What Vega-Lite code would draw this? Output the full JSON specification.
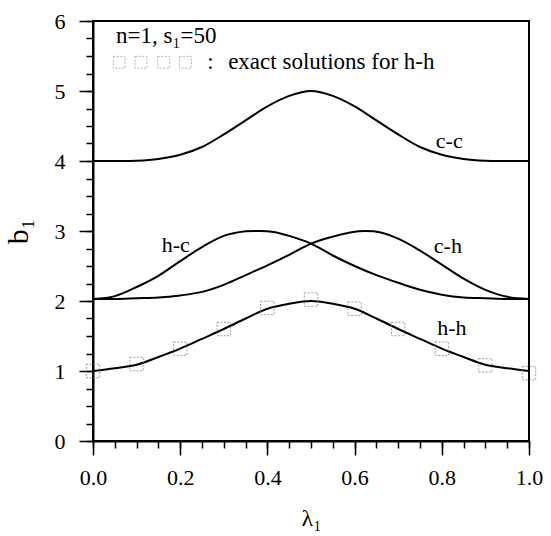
{
  "$schema": "https://vega.github.io/schema/vega-lite/v6.json",
  "width": 436,
  "height": 420,
  "autosize": {"type": "none"},
  "padding": {"left": 93, "top": 21, "right": 22, "bottom": 95},
  "background": "white",
  "view": {"stroke": "black", "strokeWidth": 2},
  "config": {
    "font": "Liberation Serif",
    "axis": {"grid": false, "ticks": true, "domainColor": "black", "tickColor": "black", "labelColor": "black", "titleColor": "black", "labelFont": "Liberation Serif", "titleFont": "Liberation Serif", "titleFontWeight": "normal"}
  },
  "datasets": {
    "curves": [
      {"series": "c-c", "x": 0.0, "y": 4.0}, {"series": "c-c", "x": 0.05, "y": 4.0}, {"series": "c-c", "x": 0.1, "y": 4.005}, {"series": "c-c", "x": 0.15, "y": 4.03}, {"series": "c-c", "x": 0.2, "y": 4.09}, {"series": "c-c", "x": 0.25, "y": 4.2}, {"series": "c-c", "x": 0.3, "y": 4.38}, {"series": "c-c", "x": 0.35, "y": 4.58}, {"series": "c-c", "x": 0.4, "y": 4.78}, {"series": "c-c", "x": 0.45, "y": 4.93}, {"series": "c-c", "x": 0.5, "y": 5.0}, {"series": "c-c", "x": 0.55, "y": 4.93}, {"series": "c-c", "x": 0.6, "y": 4.78}, {"series": "c-c", "x": 0.65, "y": 4.58}, {"series": "c-c", "x": 0.7, "y": 4.38}, {"series": "c-c", "x": 0.75, "y": 4.2}, {"series": "c-c", "x": 0.8, "y": 4.09}, {"series": "c-c", "x": 0.85, "y": 4.03}, {"series": "c-c", "x": 0.9, "y": 4.005}, {"series": "c-c", "x": 0.95, "y": 4.0}, {"series": "c-c", "x": 1.0, "y": 4.0},
      {"series": "h-c", "x": 0.0, "y": 2.03}, {"series": "h-c", "x": 0.05, "y": 2.07}, {"series": "h-c", "x": 0.1, "y": 2.2}, {"series": "h-c", "x": 0.15, "y": 2.36}, {"series": "h-c", "x": 0.2, "y": 2.57}, {"series": "h-c", "x": 0.25, "y": 2.77}, {"series": "h-c", "x": 0.3, "y": 2.93}, {"series": "h-c", "x": 0.35, "y": 2.995}, {"series": "h-c", "x": 0.38, "y": 3.0}, {"series": "h-c", "x": 0.41, "y": 2.99}, {"series": "h-c", "x": 0.45, "y": 2.93}, {"series": "h-c", "x": 0.5, "y": 2.82}, {"series": "h-c", "x": 0.55, "y": 2.65}, {"series": "h-c", "x": 0.6, "y": 2.5}, {"series": "h-c", "x": 0.65, "y": 2.37}, {"series": "h-c", "x": 0.7, "y": 2.26}, {"series": "h-c", "x": 0.75, "y": 2.16}, {"series": "h-c", "x": 0.8, "y": 2.09}, {"series": "h-c", "x": 0.85, "y": 2.05}, {"series": "h-c", "x": 0.9, "y": 2.04}, {"series": "h-c", "x": 0.95, "y": 2.03}, {"series": "h-c", "x": 1.0, "y": 2.03},
      {"series": "c-h", "x": 0.0, "y": 2.03}, {"series": "c-h", "x": 0.05, "y": 2.03}, {"series": "c-h", "x": 0.1, "y": 2.04}, {"series": "c-h", "x": 0.15, "y": 2.05}, {"series": "c-h", "x": 0.2, "y": 2.08}, {"series": "c-h", "x": 0.25, "y": 2.13}, {"series": "c-h", "x": 0.3, "y": 2.23}, {"series": "c-h", "x": 0.35, "y": 2.37}, {"series": "c-h", "x": 0.4, "y": 2.51}, {"series": "c-h", "x": 0.45, "y": 2.66}, {"series": "c-h", "x": 0.5, "y": 2.82}, {"series": "c-h", "x": 0.55, "y": 2.92}, {"series": "c-h", "x": 0.59, "y": 2.98}, {"series": "c-h", "x": 0.625, "y": 3.0}, {"series": "c-h", "x": 0.66, "y": 2.98}, {"series": "c-h", "x": 0.7, "y": 2.89}, {"series": "c-h", "x": 0.75, "y": 2.72}, {"series": "c-h", "x": 0.8, "y": 2.52}, {"series": "c-h", "x": 0.85, "y": 2.32}, {"series": "c-h", "x": 0.9, "y": 2.16}, {"series": "c-h", "x": 0.95, "y": 2.06}, {"series": "c-h", "x": 1.0, "y": 2.03},
      {"series": "h-h", "x": 0.0, "y": 1.0}, {"series": "h-h", "x": 0.05, "y": 1.04}, {"series": "h-h", "x": 0.1, "y": 1.09}, {"series": "h-h", "x": 0.15, "y": 1.2}, {"series": "h-h", "x": 0.2, "y": 1.32}, {"series": "h-h", "x": 0.25, "y": 1.46}, {"series": "h-h", "x": 0.3, "y": 1.6}, {"series": "h-h", "x": 0.35, "y": 1.75}, {"series": "h-h", "x": 0.4, "y": 1.89}, {"series": "h-h", "x": 0.45, "y": 1.96}, {"series": "h-h", "x": 0.5, "y": 2.0}, {"series": "h-h", "x": 0.55, "y": 1.96}, {"series": "h-h", "x": 0.6, "y": 1.89}, {"series": "h-h", "x": 0.65, "y": 1.75}, {"series": "h-h", "x": 0.7, "y": 1.6}, {"series": "h-h", "x": 0.75, "y": 1.46}, {"series": "h-h", "x": 0.8, "y": 1.32}, {"series": "h-h", "x": 0.85, "y": 1.2}, {"series": "h-h", "x": 0.9, "y": 1.09}, {"series": "h-h", "x": 0.95, "y": 1.04}, {"series": "h-h", "x": 1.0, "y": 1.0}
    ],
    "exact": [
      {"x": 0.0, "y": 1.0}, {"x": 0.1, "y": 1.1}, {"x": 0.2, "y": 1.32}, {"x": 0.3, "y": 1.6}, {"x": 0.4, "y": 1.9}, {"x": 0.5, "y": 2.02}, {"x": 0.6, "y": 1.89}, {"x": 0.7, "y": 1.6}, {"x": 0.8, "y": 1.32}, {"x": 0.9, "y": 1.08}, {"x": 1.0, "y": 0.97}
    ],
    "labels": [
      {"x": 0.817, "y": 4.29, "text": "c-c"},
      {"x": 0.19, "y": 2.8, "text": "h-c"},
      {"x": 0.814, "y": 2.78, "text": "c-h"},
      {"x": 0.823, "y": 1.61, "text": "h-h"}
    ],
    "legendText": [
      {"x": 0.053, "y": 5.78, "text": "n=1, s₁=50"},
      {"x": 0.262, "y": 5.41, "text": ":"},
      {"x": 0.31, "y": 5.41, "text": "exact solutions for h-h"}
    ],
    "legendSquares": [
      {"x": 0.06, "y": 5.41}, {"x": 0.11, "y": 5.41}, {"x": 0.162, "y": 5.41}, {"x": 0.212, "y": 5.41}
    ]
  },
  "resolve": {"axis": {"x": "independent", "y": "independent"}},
  "layer": [
    {
      "data": {"name": "curves"},
      "mark": {"type": "line", "color": "black", "strokeWidth": 2, "interpolate": "catmull-rom"},
      "encoding": {
        "x": {"field": "x", "type": "quantitative", "scale": {"domain": [0, 1], "nice": false, "zero": false},
          "axis": {"orient": "bottom", "values": [0, 0.2, 0.4, 0.6, 0.8, 1.0], "format": ".1f", "ticks": true, "labelFontSize": 22, "tickSize": 14, "tickWidth": 1.5, "domainWidth": 2, "labelPadding": 12, "labelFlush": false, "labelOverlap": false, "title": "λ₁", "titleFontSize": 24, "titlePadding": 18}},
        "y": {"field": "y", "type": "quantitative", "scale": {"domain": [0, 6], "nice": false},
          "axis": {"orient": "left", "values": [0, 1, 2, 3, 4, 5, 6], "format": "d", "ticks": true, "labelFontSize": 22, "tickSize": 14, "tickWidth": 1.5, "domainWidth": 2, "labelPadding": 14, "title": "b₁", "titleFontSize": 30, "titlePadding": 21}},
        "detail": {"field": "series", "type": "nominal"}
      }
    },
    {
      "data": {"name": "exact"},
      "mark": {"type": "point", "shape": "square", "filled": false, "stroke": "#777777", "strokeWidth": 1, "strokeDash": [2, 1.5], "size": 180},
      "encoding": {
        "x": {"field": "x", "type": "quantitative", "axis": {"orient": "bottom", "values": [0, 0.05, 0.1, 0.15, 0.2, 0.25, 0.3, 0.35, 0.4, 0.45, 0.5, 0.55, 0.6, 0.65, 0.7, 0.75, 0.8, 0.85, 0.9, 0.95, 1.0], "ticks": true, "labels": false, "domain": false, "tickSize": 7, "tickWidth": 1.5, "title": null}},
        "y": {"field": "y", "type": "quantitative", "axis": {"orient": "left", "values": [0, 0.25, 0.5, 0.75, 1, 1.25, 1.5, 1.75, 2, 2.25, 2.5, 2.75, 3, 3.25, 3.5, 3.75, 4, 4.25, 4.5, 4.75, 5, 5.25, 5.5, 5.75, 6], "ticks": true, "labels": false, "domain": false, "tickSize": 7, "tickWidth": 1.5, "title": null}}
      }
    },
    {
      "data": {"name": "labels"},
      "mark": {"type": "text", "font": "Liberation Serif", "fontSize": 22, "color": "black", "align": "center", "baseline": "middle"},
      "encoding": {
        "x": {"field": "x", "type": "quantitative", "axis": null},
        "y": {"field": "y", "type": "quantitative", "axis": null},
        "text": {"field": "text"}
      }
    },
    {
      "data": {"name": "legendText"},
      "mark": {"type": "text", "font": "Liberation Serif", "fontSize": 23, "color": "black", "align": "left", "baseline": "middle"},
      "encoding": {
        "x": {"field": "x", "type": "quantitative", "axis": null},
        "y": {"field": "y", "type": "quantitative", "axis": null},
        "text": {"field": "text"}
      }
    },
    {
      "data": {"name": "legendSquares"},
      "mark": {"type": "point", "shape": "square", "filled": false, "stroke": "#999999", "strokeWidth": 1, "strokeDash": [2, 1.5], "size": 140},
      "encoding": {
        "x": {"field": "x", "type": "quantitative", "axis": null},
        "y": {"field": "y", "type": "quantitative", "axis": null}
      }
    }
  ]
}
